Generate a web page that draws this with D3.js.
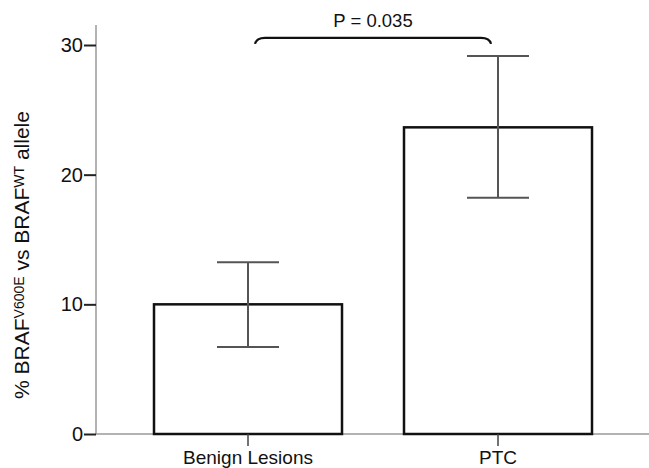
<!DOCTYPE html>
<html><head><meta charset="utf-8">
<script src="https://cdn.jsdelivr.net/npm/d3@7"></script>
<style>body{margin:0;background:#fff}svg{display:block}</style>
</head><body><svg id="c" width="649" height="468"></svg>
<script>
const categories = ["Benign Lesions", "PTC"];
const means = [10.0, 23.65];
const upper = [13.24, 29.15];
const lower = [6.7, 18.22];
const yTicks = [0, 10, 20, 30];
const pLabel = "P = 0.035";

const FONT = "'Liberation Sans', Arial, Helvetica, sans-serif";
const svg = d3.select("#c");
const x = d3.scaleBand().domain(categories).range([96, 650]).paddingInner(0.248).paddingOuter(0.232);
const y = d3.scaleLinear().domain([0, 30]).range([434, 45]);
const cx = c => x(c) + x.bandwidth() / 2;

// axis lines (gray)
svg.append("line").attr("x1", 96).attr("x2", 96).attr("y1", y(0)).attr("y2", y(31.55))
  .attr("stroke", "#9a9a9a").attr("stroke-width", 1.5);
svg.append("line").attr("x1", 96).attr("x2", 649).attr("y1", y(0)).attr("y2", y(0))
  .attr("stroke", "#9a9a9a").attr("stroke-width", 1.5);

// bars
const data = categories.map((c, i) => ({c, m: means[i], u: upper[i], l: lower[i]}));
svg.selectAll("rect.bar").data(data).join("rect").attr("class", "bar")
  .attr("x", d => x(d.c)).attr("width", x.bandwidth())
  .attr("y", d => y(d.m)).attr("height", d => y(0) - y(d.m))
  .attr("fill", "#fff").attr("stroke", "#111").attr("stroke-width", 2.5);

// error bars
const capW = 62;
const eg = svg.append("g").attr("stroke", "#555").attr("stroke-width", 2);
data.forEach(d => {
  eg.append("line").attr("x1", cx(d.c)).attr("x2", cx(d.c)).attr("y1", y(d.u)).attr("y2", y(d.l));
  eg.append("line").attr("x1", cx(d.c) - capW/2).attr("x2", cx(d.c) + capW/2).attr("y1", y(d.u)).attr("y2", y(d.u));
  eg.append("line").attr("x1", cx(d.c) - capW/2).attr("x2", cx(d.c) + capW/2).attr("y1", y(d.l)).attr("y2", y(d.l));
});

// y axis ticks
const ya = svg.append("g").attr("transform", "translate(96,0)")
  .call(d3.axisLeft(y).tickValues(yTicks).tickSize(12).tickPadding(1).tickSizeOuter(0));
ya.select(".domain").remove();
ya.selectAll(".tick line").attr("stroke", "#222").attr("stroke-width", 2);
ya.selectAll(".tick text").attr("fill", "#111").style("font-family", FONT).style("font-size", "20px");

// x axis ticks
const xa = svg.append("g").attr("transform", `translate(0,${y(0)})`)
  .call(d3.axisBottom(x).tickSize(12).tickPadding(5).tickSizeOuter(0));
xa.select(".domain").remove();
xa.selectAll(".tick line").attr("stroke", "#444").attr("stroke-width", 1.5);
xa.selectAll(".tick text").attr("fill", "#111").style("font-family", FONT).style("font-size", "19px");

// significance bracket
const bx1 = cx(categories[0]) + 7, bx2 = cx(categories[1]) - 7, by = y(30.55);
svg.append("path")
  .attr("d", `M${bx1},${by+6} C${bx1+1},${by+1.5} ${bx1+4},${by} ${bx1+10},${by} L${bx2-10},${by} C${bx2-4},${by} ${bx2-1},${by+1.5} ${bx2},${by+6}`)
  .attr("fill", "none").attr("stroke", "#111").attr("stroke-width", 2.2);
svg.append("text").attr("x", (bx1 + bx2) / 2).attr("y", 27).attr("text-anchor", "middle")
  .style("font-family", FONT).style("font-size", "18.5px").attr("fill", "#111").text(pLabel);

// y axis label
const yl = svg.append("text").attr("transform", "translate(29,255) rotate(-90)")
  .attr("text-anchor", "middle").style("font-family", FONT).style("font-size", "21px").attr("fill", "#111");
yl.append("tspan").text("% BRAF");
yl.append("tspan").attr("dy", -5).style("font-size", "14px").text("V600E");
yl.append("tspan").attr("dy", 5).text(" vs BRAF");
yl.append("tspan").attr("dy", -5).style("font-size", "14px").text("WT");
yl.append("tspan").attr("dy", 5).text(" allele");
</script></body></html>
